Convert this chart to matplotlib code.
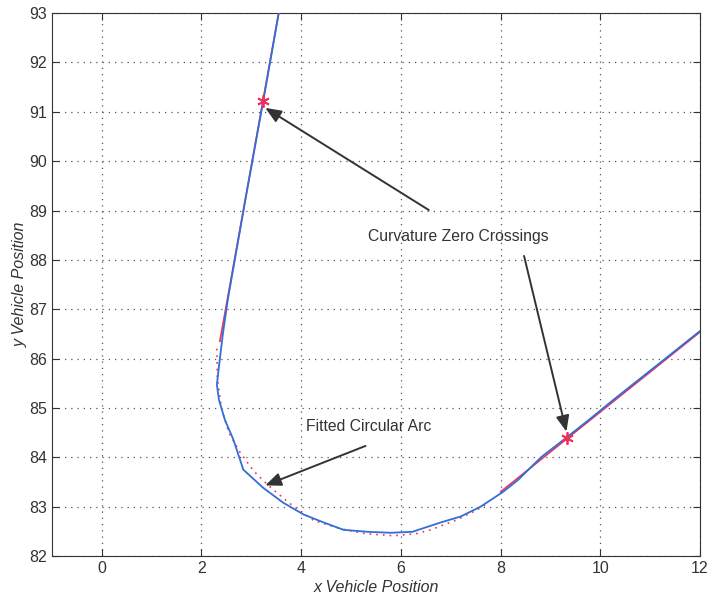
import matplotlib
matplotlib.use('Agg')
import matplotlib.pyplot as plt

plt.rcParams['font.family'] = ['Liberation Sans', 'DejaVu Sans']

# vehicle path (blue)
pathX = [3.62, 3.24, 2.88, 2.53, 2.43, 2.35, 2.31, 2.35, 2.47, 2.64, 2.84, 3.24,
         3.64, 4.05, 4.45, 4.85, 5.33, 5.80, 6.23, 6.80, 7.20, 7.60, 8.05, 8.35,
         8.81, 9.32, 9.76, 10.22, 10.48, 11.23, 12.05]
pathY = [93.4, 91.22, 89.21, 87.20, 86.50, 85.83, 85.47, 85.17, 84.76, 84.36, 83.75, 83.38,
         83.08, 82.84, 82.68, 82.53, 82.49, 82.47, 82.49, 82.68, 82.80, 83.00, 83.30, 83.54,
         84.00, 84.40, 84.75, 85.13, 85.34, 85.94, 86.60]

# straight segments (red)
line1X = [2.37, 3.62]
line1Y = [86.35, 93.4]
line2X = [8.00, 12.05]
line2Y = [83.30, 86.58]

# fitted circular arc (red dotted)
arcX = [2.31, 2.32, 2.40, 2.55, 2.78, 3.05, 3.32, 3.75, 4.25, 4.80, 5.30, 5.85,
        6.30, 6.60, 7.14, 7.50, 7.70]
arcY = [86.20, 85.60, 85.00, 84.50, 84.09, 83.72, 83.45, 83.08, 82.72, 82.55, 82.45, 82.41,
        82.45, 82.53, 82.74, 82.92, 83.04]

# curvature zero crossings
zeroX = [3.24, 9.33]
zeroY = [91.22, 84.39]

fig = plt.figure(figsize=(7.1, 5.97), dpi=100)
ax = fig.add_axes([0.073, 0.0687, 0.913, 0.9093])

blue = '#2f6fd6'
red = '#f0305a'

ax.plot(line1X, line1Y, color=red, lw=1.2, zorder=3)
ax.plot(line2X, line2Y, color=red, lw=1.2, zorder=3)
ax.plot(arcX, arcY, color=red, lw=1.2, ls=(0, (1, 3)), zorder=3)
ax.plot(pathX, pathY, color=blue, lw=1.3, zorder=4)
ax.plot(zeroX, zeroY, ls='none', marker=(6, 2, 0), color=red, mec=red, ms=9, mew=1.3, zorder=5)

txtc = '#333333'
arrow = dict(arrowstyle='-|>,head_length=0.6,head_width=0.25', color=txtc, lw=1.4,
             mutation_scale=16, shrinkA=0, shrinkB=0)
ax.text(7.16, 88.47, 'Curvature Zero Crossings', ha='center', va='center', fontsize=11.3, color=txtc)
ax.annotate('', xy=(3.28, 91.08), xytext=(6.56, 89.01), arrowprops=arrow)
ax.annotate('', xy=(9.32, 84.52), xytext=(8.47, 88.08), arrowprops=arrow)
ax.text(5.35, 84.62, 'Fitted Circular Arc', ha='center', va='center', fontsize=11.3, color=txtc)
ax.annotate('', xy=(3.28, 83.43), xytext=(5.29, 84.23), arrowprops=arrow)

ax.set_xlim(-1, 12)
ax.set_ylim(82, 93)
ax.set_xticks(range(0, 13, 2))
ax.set_yticks(range(82, 94))
ax.tick_params(direction='in', top=True, right=True, labelsize=11.5, colors='#333333', length=5)
ax.grid(True, ls=(0, (1, 4)), color='#555555', lw=0.9)
for s in ax.spines.values():
    s.set_color('#333333')
ax.set_xlabel('x Vehicle Position', fontsize=11.5, style='italic', color=txtc, labelpad=3)
ax.set_ylabel('y Vehicle Position', fontsize=11.5, style='italic', color=txtc, labelpad=1)

fig.savefig('out.png', dpi=100)
